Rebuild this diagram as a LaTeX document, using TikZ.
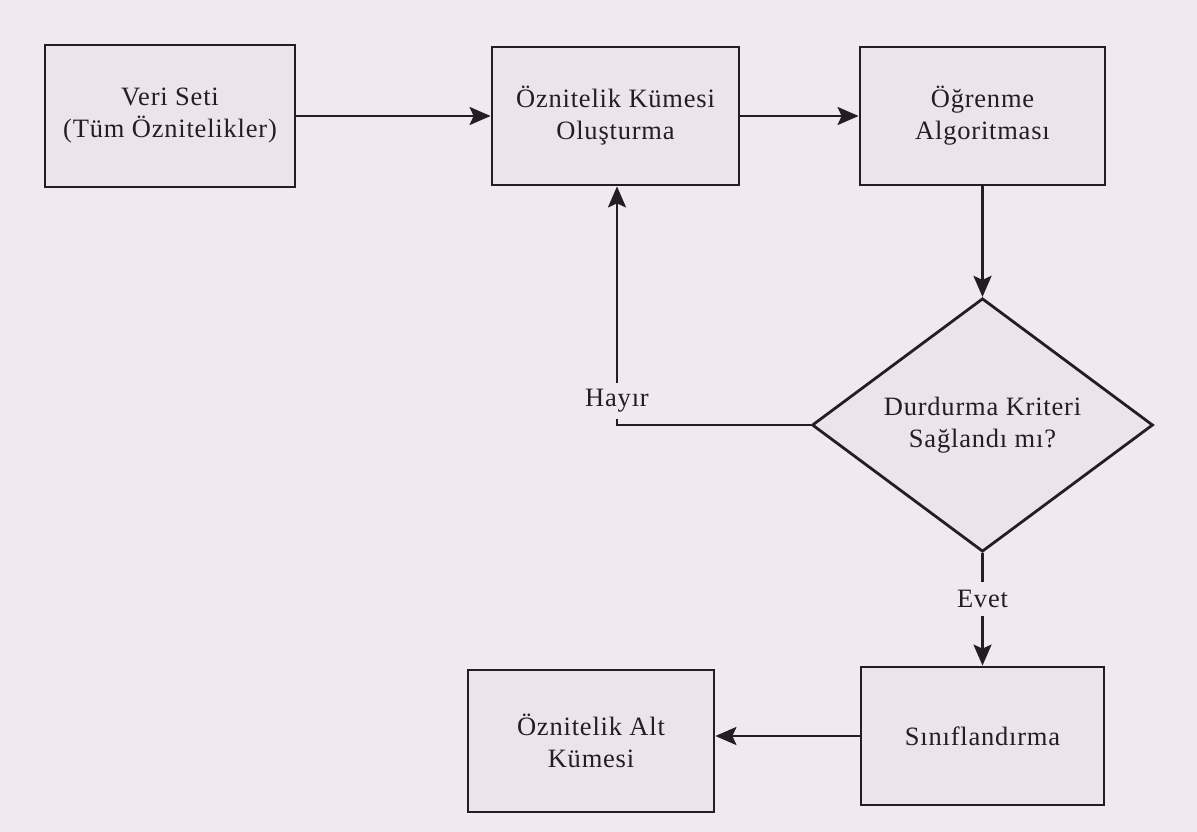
\documentclass[tikz,border=0pt]{standalone}
\usepackage{fontspec}
\setmainfont{Liberation Serif}[LetterSpace=3]
\usetikzlibrary{shapes.geometric,arrows.meta}
\definecolor{bg}{RGB}{242,233,239}
\definecolor{boxfill}{RGB}{235,228,233}
\definecolor{ink}{RGB}{38,28,38}
\begin{document}
\begin{tikzpicture}[x=1pt,y=-1pt,
  every node/.style={text=ink, font=\fontsize{26.5}{32}\selectfont},
  box/.style={draw=ink, line width=2.8pt, fill=boxfill, inner sep=0pt, align=center},
  decision/.style={diamond, draw=ink, line width=2.8pt, fill=boxfill, inner sep=0pt, align=center},
  lbl/.style={inner sep=0pt},
  conn/.style={draw=ink, line width=2.8pt},
  arr/.style={conn, -{Stealth[length=21pt,width=18pt,inset=4pt]}}
]
\fill[bg] (0,0) rectangle (1197,832);
\useasboundingbox (0,0) rectangle (1197,832);

\node[box, minimum width=250pt, minimum height=142pt] (veri) at (170,116) {Veri Seti\\(Tüm Öznitelikler)};
\node[box, minimum width=247pt, minimum height=138pt] (ozk) at (615.5,116) {Öznitelik Kümesi\\Oluşturma};
\node[box, minimum width=245pt, minimum height=138pt] (ogr) at (982.5,116) {Öğrenme\\Algoritması};
\node[decision, minimum width=341pt, minimum height=206pt] (dur) at (982.5,425) {Durdurma Kriteri\\Sağlandı mı?};
\node[box, minimum width=243pt, minimum height=138pt] (sin) at (982.5,736) {Sınıflandırma};
\node[box, minimum width=246pt, minimum height=142pt] (alt) at (591,741) {Öznitelik Alt\\Kümesi};

\node[lbl, minimum height=35pt] (hay) at (617,401) {Hayır};
\node[lbl, minimum height=33pt] (evet) at (982.5,599) {Evet};

\draw[arr] (veri.east) -- (ozk.west);
\draw[arr] (ozk.east) -- (ogr.west);
\draw[arr] (ogr.south) -- (dur.north);
\draw[conn] (dur.west) -- (dur.west -| hay.south) -- (hay.south);
\draw[arr] (hay.north) -- (hay.north |- ozk.south);
\draw[conn] (dur.south) -- (evet.north);
\draw[arr] (evet.south) -- (sin.north);
\draw[arr] (sin.west) -- (sin.west -| alt.east);
\end{tikzpicture}
\end{document}
